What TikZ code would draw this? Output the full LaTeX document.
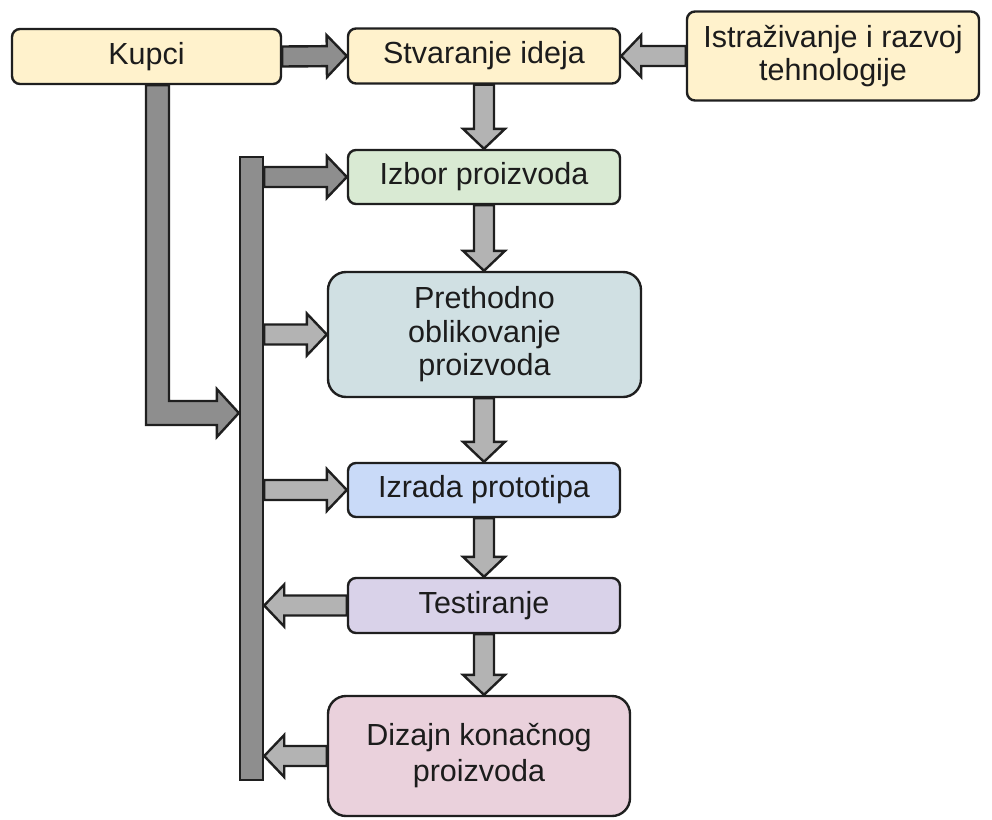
\documentclass[tikz,border=0pt]{standalone}
\usepackage{fontspec}
\setmainfont{Liberation Sans}
\usetikzlibrary{calc}
\definecolor{cyel}{HTML}{FFF2CC}
\definecolor{cgrn}{HTML}{D9EAD3}
\definecolor{ccyn}{HTML}{D0E0E3}
\definecolor{cblu}{HTML}{C9DAF8}
\definecolor{cpur}{HTML}{D9D2E9}
\definecolor{cpnk}{HTML}{EAD1DC}
\definecolor{gdark}{HTML}{8E8E8E}
\definecolor{glight}{HTML}{B3B3B3}
\definecolor{txt}{HTML}{1C1C1C}
\newcommand\blockarrow[3]{%
  \coordinate (ba-m) at ($(#3)!20pt!(#2)$);
  \draw[arrowline, fill=#1]
    ($(#2)!10pt!90:(#3)$) -- ($(ba-m)!10pt!90:(#3)$) -- ($(ba-m)!21pt!90:(#3)$)
    -- (#3) -- ($(ba-m)!21pt!-90:(#3)$) -- ($(ba-m)!10pt!-90:(#3)$)
    -- ($(#2)!10pt!-90:(#3)$) -- cycle;}
\begin{document}
\begin{tikzpicture}[x=1pt,y=-1pt,
  box/.style={draw=black!88, line width=2.4pt, rounded corners=8pt, text=txt,
    font=\fontsize{30.5}{33.5}\selectfont, align=center, inner sep=0pt},
  bigbox/.style={box, rounded corners=18pt},
  arrowline/.style={draw=black!88, line width=2.4pt, line join=miter}]
\useasboundingbox (0,0) rectangle (992,819);
% boxes
\node[box, fill=cyel, minimum width=269pt, minimum height=55pt] (kup) at (146.5,56.5) {Kupci};
\node[box, fill=cyel, minimum width=272pt, minimum height=55pt] (stv) at (484,56) {Stvaranje ideja};
\node[box, fill=cyel, minimum width=292pt, minimum height=89pt] (ist) at (833,56) {Istraživanje i razvoj\\tehnologije};
\node[box, fill=cgrn, minimum width=272pt, minimum height=54pt] (izb) at (484,177) {Izbor proizvoda};
\node[bigbox, fill=ccyn, minimum width=313pt, minimum height=125pt] (pre) at (484.5,334.5) {Prethodno\\oblikovanje\\proizvoda};
\node[box, fill=cblu, minimum width=272pt, minimum height=54pt] (izr) at (484,490) {Izrada prototipa};
\node[box, fill=cpur, minimum width=272pt, minimum height=55pt] (tes) at (484,605.5) {Testiranje};
\node[bigbox, fill=cpnk, minimum width=302pt, minimum height=120pt, font=\fontsize{30.5}{36}\selectfont] (diz) at (479,756) {Dizajn konačnog\\proizvoda};
% bar
\node[draw=black!88, line width=2.4pt, fill=gdark, minimum width=23pt, minimum height=623pt, inner sep=0pt] (bar) at (251.5,468.5) {};
% horizontal arrows at top
\blockarrow{gdark}{kup.east}{stv.west}
\blockarrow{glight}{ist.west}{stv.east}
% down arrows
\blockarrow{glight}{stv.south}{izb.north}
\blockarrow{glight}{izb.south}{izb.south |- pre.north}
\blockarrow{glight}{izb.south |- pre.south}{izr.north}
\blockarrow{glight}{izr.south}{tes.north}
\blockarrow{glight}{tes.south}{tes.south |- diz.north}
% bar arrows
\blockarrow{gdark}{bar.east |- izb.west}{izb.west}
\blockarrow{glight}{bar.east |- pre.west}{pre.west}
\blockarrow{glight}{bar.east |- izr.west}{izr.west}
\blockarrow{glight}{tes.west}{bar.east |- tes.west}
\blockarrow{glight}{diz.west}{bar.east |- diz.west}
% L-shaped arrow from Kupci to bar
\coordinate (ltop) at ([xshift=11pt]kup.south);
\coordinate (ltip) at (bar.west |- 0,413);
\draw[arrowline, fill=gdark]
  ($(ltop)+(-11.5,0)$) -- ($(ltop|-ltip)+(-11.5,12)$) -- ($(ltip)+(-22,12)$)
  -- ($(ltip)+(-22,24)$) -- (ltip) -- ($(ltip)+(-22,-24)$) -- ($(ltip)+(-22,-12)$)
  -- ($(ltop|-ltip)+(11.5,-12)$) -- ($(ltop)+(11.5,0)$) -- cycle;
\end{tikzpicture}
\end{document}
